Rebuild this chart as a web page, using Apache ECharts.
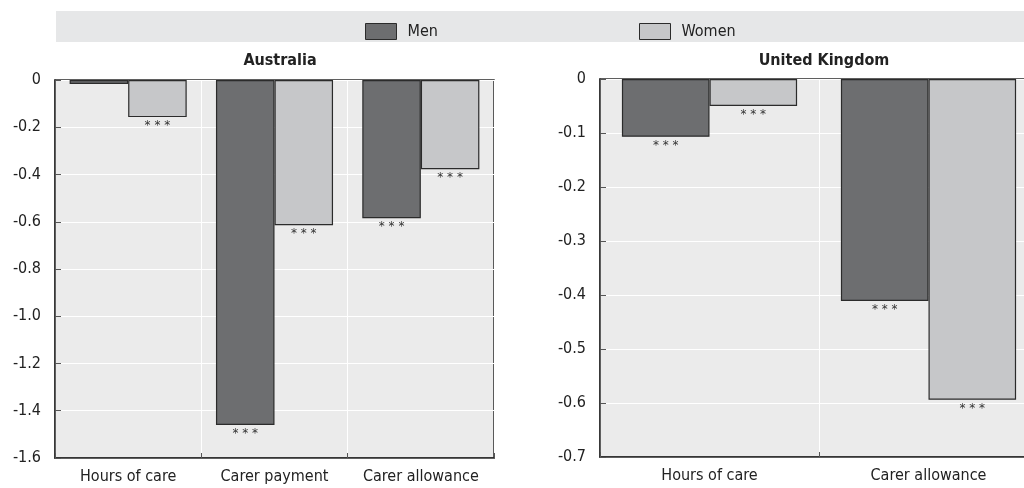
<!DOCTYPE html>
<html>
<head>
<meta charset="utf-8">
<script src="https://cdn.jsdelivr.net/npm/echarts@6/dist/echarts.min.js"></script>
<style>
  html, body { margin: 0; padding: 0; background: #ffffff; }
  #chart { width: 1024px; height: 488px; }
</style>
</head>
<body>
<div id="chart"></div>
<script>
// Effect of caring on outcomes, by sex
const seriesNames = ['Men', 'Women'];

const auCategories = ['Hours of care', 'Carer payment', 'Carer allowance'];
const auMen   = [-0.017, -1.46, -0.585];
const auWomen = [-0.157, -0.615, -0.378];
const auMenSig   = ['', '***', '***'];
const auWomenSig = ['***', '***', '***'];
const auTicks = [0, -0.2, -0.4, -0.6, -0.8, -1.0, -1.2, -1.4, -1.6];

const ukCategories = ['Hours of care', 'Carer allowance'];
const ukMen   = [-0.107, -0.411];
const ukWomen = [-0.05, -0.594];
const ukMenSig   = ['***', '***'];
const ukWomenSig = ['***', '***'];
const ukTicks = [0, -0.1, -0.2, -0.3, -0.4, -0.5, -0.6, -0.7];

const FONT = '"Liberation Sans Narrow", "DejaVu Sans Condensed", "Liberation Sans", sans-serif';
const MEN_COLOR = '#6d6e70';
const WOMEN_COLOR = '#c6c7c9';
const EDGE = '#2b2b2b';

function fmtTick(v) {
  if (v === 0) return '0';
  return v.toFixed(1);
}

function makeAxes(idx, categories, ticks, step) {
  const x = {
    type: 'category',
    gridIndex: idx,
    data: categories,
    position: 'bottom',
    axisLine: { show: true, onZero: false, lineStyle: { color: EDGE, width: 1.5 } },
    axisTick: { show: true, inside: true, length: 5, lineStyle: { color: '#555' } },
    axisLabel: { color: '#222', fontFamily: FONT, fontSize: 16, margin: 11, interval: 0 },
    splitLine: { show: true, lineStyle: { color: '#ffffff', width: 1 } }
  };
  const y = {
    type: 'value',
    gridIndex: idx,
    min: ticks[ticks.length - 1],
    max: ticks[0],
    interval: step,
    axisLine: { show: true, lineStyle: { color: EDGE, width: 1.5 } },
    axisTick: { show: true, inside: true, length: 6, lineStyle: { color: '#555' } },
    axisLabel: { color: '#222', fontFamily: FONT, fontSize: 16, margin: 14, formatter: fmtTick },
    splitLine: { show: true, lineStyle: { color: '#ffffff', width: 1 } }
  };
  return { x, y };
}

function barSeries(name, idx, values, sig, color) {
  return {
    name: name,
    type: 'bar',
    xAxisIndex: idx,
    yAxisIndex: idx,
    barGap: '0%',
    barCategoryGap: '20%',
    data: values.map((v, i) => ({ value: v, sig: sig[i] })),
    itemStyle: { color: color, borderColor: EDGE, borderWidth: 1.2 },
    label: {
      show: true,
      position: 'bottom',
      distance: 3,
      color: '#333',
      fontFamily: 'DejaVu Sans',
      fontSize: 12,
      formatter: p => p.data.sig.split('').join(' ')
    },
    emphasis: { disabled: true },
    animation: false
  };
}

const au = makeAxes(0, auCategories, auTicks, 0.2);
const uk = makeAxes(1, ukCategories, ukTicks, 0.1);

const option = {
  backgroundColor: '#ffffff',
  animation: false,
  graphic: [{
    type: 'rect',
    shape: { x: 56, y: 11, width: 968, height: 31 },
    style: { fill: '#e6e7e8' },
    z: -1
  }],
  legend: [
    {
      data: ['Men'], left: 360, top: 18, itemWidth: 31, itemHeight: 16,
      icon: 'rect',
      textStyle: { color: '#222', fontFamily: FONT, fontSize: 16, padding: [0, 0, 0, 6] },
      itemStyle: { borderColor: EDGE, borderWidth: 1 },
      selectedMode: false
    },
    {
      data: ['Women'], left: 634, top: 18, itemWidth: 31, itemHeight: 16,
      icon: 'rect',
      textStyle: { color: '#222', fontFamily: FONT, fontSize: 16, padding: [0, 0, 0, 6] },
      itemStyle: { borderColor: EDGE, borderWidth: 1 },
      selectedMode: false
    }
  ],
  title: [
    { text: 'Australia', left: 275, top: 48, textAlign: 'center',
      textStyle: { fontFamily: FONT, fontWeight: 'bold', fontSize: 16, color: '#222' } },
    { text: 'United Kingdom', left: 819, top: 48, textAlign: 'center',
      textStyle: { fontFamily: FONT, fontWeight: 'bold', fontSize: 16, color: '#222' } }
  ],
  grid: [
    { left: 55, top: 80, width: 439, height: 378, show: true, outerBoundsMode: 'none',
      backgroundColor: '#ebebeb', borderColor: EDGE, borderWidth: 1.5, containLabel: false },
    { left: 600, top: 79, width: 438, height: 378, show: true, outerBoundsMode: 'none',
      backgroundColor: '#ebebeb', borderColor: EDGE, borderWidth: 1.5, containLabel: false }
  ],
  xAxis: [au.x, uk.x],
  yAxis: [au.y, uk.y],
  series: [
    barSeries(seriesNames[0], 0, auMen, auMenSig, MEN_COLOR),
    barSeries(seriesNames[1], 0, auWomen, auWomenSig, WOMEN_COLOR),
    barSeries(seriesNames[0], 1, ukMen, ukMenSig, MEN_COLOR),
    barSeries(seriesNames[1], 1, ukWomen, ukWomenSig, WOMEN_COLOR)
  ]
};

const chart = echarts.init(document.getElementById('chart'), null, { renderer: 'canvas' });
chart.setOption(option);
</script>
</body>
</html>
